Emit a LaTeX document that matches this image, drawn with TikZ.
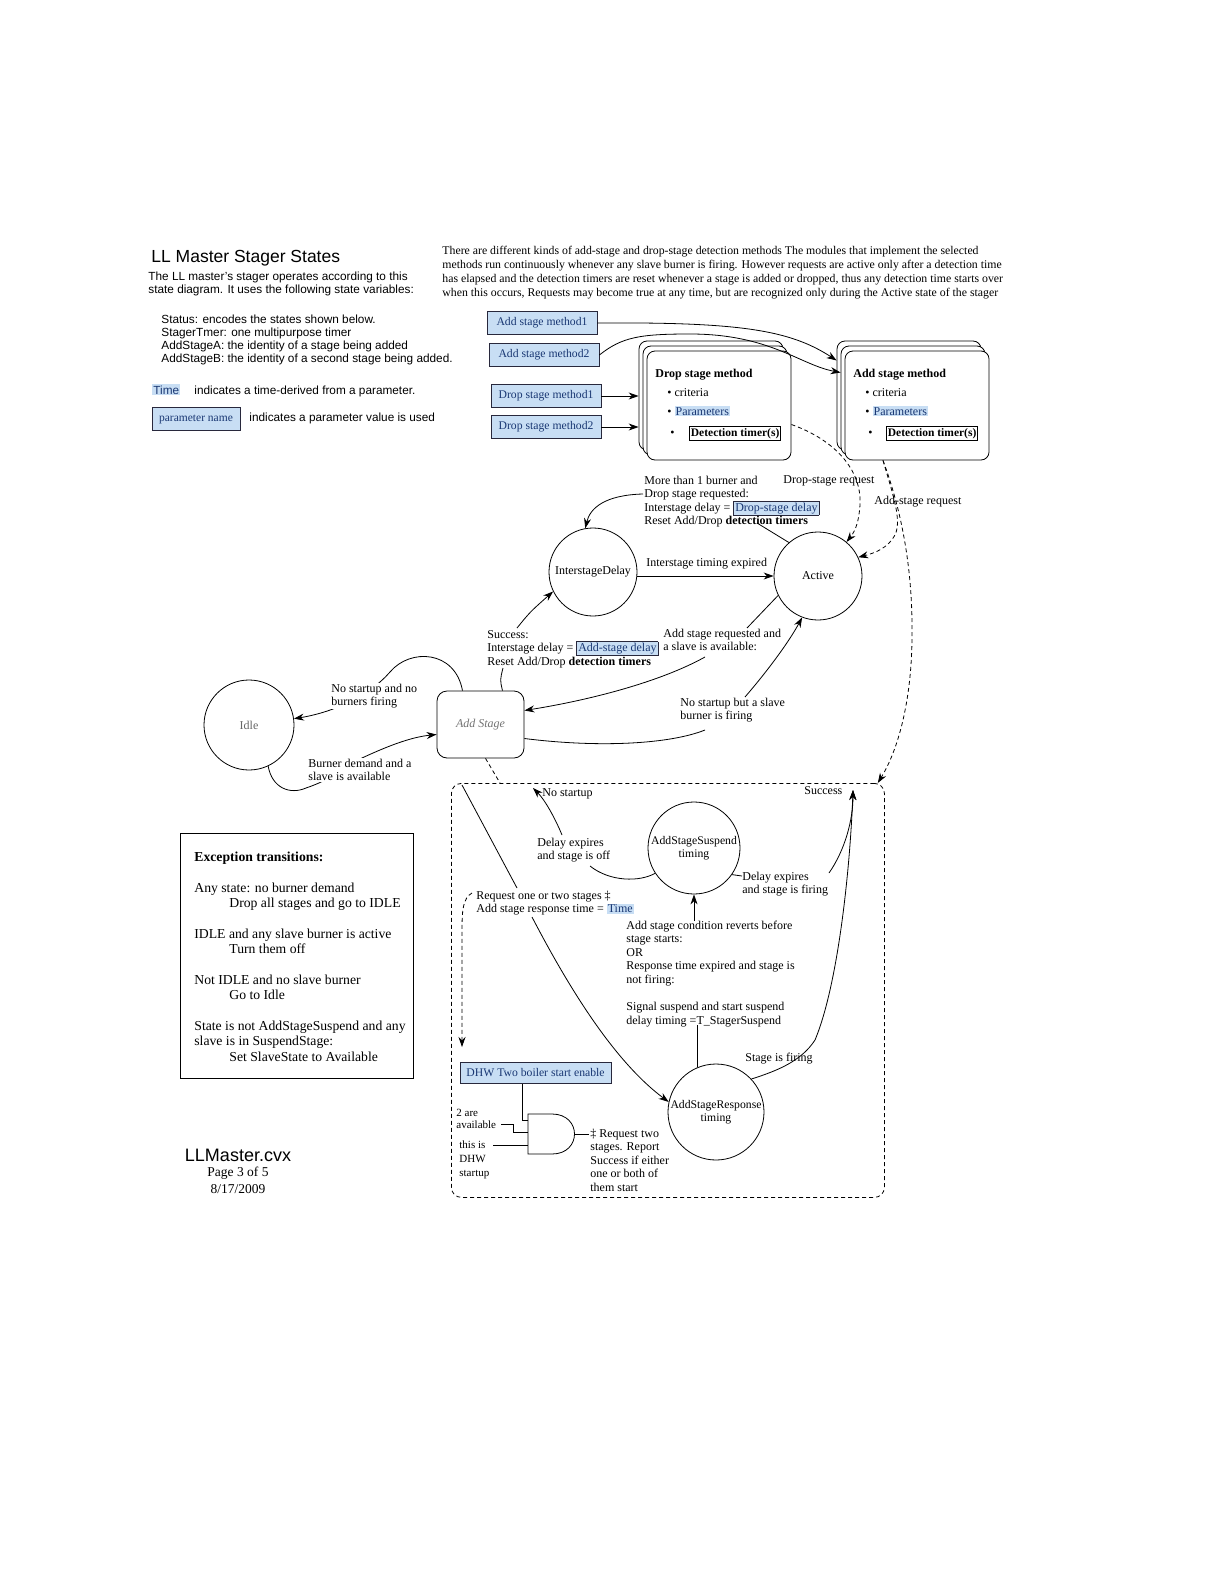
\documentclass[tikz,border=0pt]{standalone}
\usepackage{fontspec}
\setmainfont{Liberation Serif}
\setsansfont{Liberation Sans}
\usetikzlibrary{arrows.meta,calc}
\definecolor{hlfill}{RGB}{200,222,244}
\definecolor{hltext}{RGB}{25,55,115}
\definecolor{boxline}{RGB}{40,40,60}
\newcommand{\dgfont}{\fontsize{12}{13.6}\selectfont}
\newcommand{\sansfont}{\sffamily\fontsize{11.8}{13}\selectfont}
\newcommand{\hlt}[1]{{\setlength{\fboxsep}{1pt}\colorbox{hlfill}{\textcolor{hltext}{#1}}}}
\newcommand{\hlbox}[1]{{\setlength{\fboxsep}{1pt}\setlength{\fboxrule}{0.8pt}\fcolorbox{boxline}{hlfill}{\textcolor{hltext}{#1}}}}
\begin{document}
\begin{tikzpicture}[x=1pt,y=-1pt,line width=0.8pt,
  arr/.style={-{Stealth[length=10pt,width=7pt]}},
  dsh/.style={dash pattern=on 4pt off 3pt},
  lbl/.style={anchor=base west,align=left,inner sep=0pt,font=\dgfont},
  lblw/.style={lbl,fill=white,inner sep=1pt},
  state/.style={circle,draw,minimum size=88pt,inner sep=0pt,align=center,font=\dgfont},
  mbox/.style={draw=boxline,fill=hlfill,text=hltext,minimum height=23pt,inner sep=2pt,font=\fontsize{11.7}{13}\selectfont},
  card/.style={draw,rounded corners=8pt,fill=white,minimum width=144pt,minimum height=109pt},
  ]
\useasboundingbox (0,0) rectangle (1224,1584);
\fill[white] (0,0) rectangle (1224,1584);

% ---------- header texts (multi-line nodes: base = last line) ----------
\node[anchor=base west,inner sep=0pt,font=\sffamily\fontsize{17.5}{20}\selectfont] (title) at (151,262) {LL Master Stager States};
\node[anchor=base west,inner sep=0pt,align=left,font=\sansfont] (intro) at (148,293) {The LL master's stager operates according to this\\state diagram. It uses the following state variables:};
\node[anchor=base west,inner sep=0pt,align=left,font=\sansfont] (vars) at (161,362) {Status: encodes the states shown below.\\StagerTmer: one multipurpose timer\\AddStageA: the identity of a stage being added\\AddStageB: the identity of a second stage being added.};
\node[anchor=base west,inner sep=0pt,font=\sansfont] (timelg) at (152,394) {\hlt{Time}};
\node[anchor=base west,inner sep=0pt,font=\sansfont] (timetx) at (194,394) {indicates a time-derived from a parameter.};
\node[mbox,font=\fontsize{11.5}{13}\selectfont,minimum width=88pt,minimum height=23pt] (pname) at (196,419) {parameter name};
\node[anchor=base west,inner sep=0pt,font=\sansfont] (pnametx) at (249,421) {indicates a parameter value is used};

\node[anchor=base west,inner sep=0pt,align=left,font=\fontsize{11.8}{13.7}\selectfont] (para) at (442,296) {There are different kinds of add-stage and drop-stage detection methods The modules that implement the selected\\methods run continuously whenever any slave burner is firing. However requests are active only after a detection time\\has elapsed and the detection timers are reset whenever a stage is added or dropped, thus any detection time starts over\\when this occurs, Requests may become true at any time, but are recognized only during the Active state of the stager};

% ---------- method boxes ----------
\node[mbox,minimum width=110pt] (am1) at (542,323) {Add stage method1};
\node[mbox,minimum width=110pt] (am2) at (544,355) {Add stage method2};
\node[mbox,minimum width=110pt] (dm1) at (546,396) {Drop stage method1};
\node[mbox,minimum width=110pt] (dm2) at (546,427) {Drop stage method2};

% ---------- stacked cards ----------
\node[card] (dropb) at (711,395.5) {};
\node[card] (dropm) at (715,400.5) {};
\node[card] (dropf) at (719,405.5) {};
\node[card] (addb) at (909,395.5) {};
\node[card] (addm) at (913,400.5) {};
\node[card] (addf) at (917,405.5) {};

\node[lbl,font=\bfseries\dgfont] (dtitle) at (655,377) {Drop stage method};
\node[lbl] (dcrit) at (667,396) {\textbullet\ criteria};
\node[lbl] (dpar) at (667,415) {\textbullet\ \hlt{Parameters}};
\node[lbl] (dbul) at (670,436) {\textbullet};
\node[draw,anchor=base west,inner sep=1.5pt,font=\bfseries\fontsize{11.5}{13}\selectfont] (ddet) at (689,436) {Detection timer(s)};

\node[lbl,font=\bfseries\dgfont] (atitle) at (853,377) {Add stage method};
\node[lbl] (acrit) at (865,396) {\textbullet\ criteria};
\node[lbl] (apar) at (865,415) {\textbullet\ \hlt{Parameters}};
\node[lbl] (abul) at (868,436) {\textbullet};
\node[draw,anchor=base west,inner sep=1.5pt,font=\bfseries\fontsize{11.5}{13}\selectfont] (adet) at (886,436) {Detection timer(s)};

\draw[arr] (am1.east) .. controls (740,322) and (790,330) .. ([yshift=35pt]addb.west);
\draw[arr] (am2.east) .. controls (622,337) and (640,334) .. (690,334) .. controls (770,334) and (800,365) .. ([yshift=28pt]addm.west);
\draw[arr] (dm1.east) -- (dm1.east -| dropb.west);
\draw[arr] (dm2.east) -- (dm2.east -| dropb.west);

% ---------- states ----------
\node[state] (isd) at (593,572) {InterstageDelay};
\node[state] (act) at (818,576) {Active};
\node[state,minimum size=90pt,text=black!60] (idle) at (249,725) {Idle};
\node[draw,rounded corners=10pt,minimum width=87pt,minimum height=67pt,font=\itshape\dgfont,text=black!55] (addst) at (480.5,724.5) {Add Stage};
\node[draw,dsh,rounded corners=10pt,minimum width=433pt,minimum height=414pt,anchor=north west] (comp) at (451,783) {};
\node[state,minimum size=92pt,font=\fontsize{11.7}{13.4}\selectfont] (sus) at (694,848) {AddStageSuspend\\timing};
\node[state,minimum size=96pt,font=\fontsize{11.7}{13.4}\selectfont] (resp) at (716,1112) {AddStageResponse\\timing};

% ---------- request dashed lines ----------
\node[lbl] (dsreq) at (783,483) {Drop-stage request};
\node[lbl] (asreq) at (874,504) {Add-stage request};
\draw[dsh,arr] ([yshift=-19pt]dropf.east) .. controls (835,440) and (862,470) .. (860,505) .. controls (859,520) and (856,530) .. (act.50);
\draw[dsh,arr] ([xshift=-34pt]addf.south) .. controls (893,495) and (902,520) .. (895,535) .. controls (888,548) and (875,553) .. (act.25);
\draw[dsh,arr] ([xshift=-34pt]addf.south) .. controls (905,520) and (913,580) .. (912,640) .. controls (911,710) and (895,755) .. ([xshift=-7pt]comp.north east);

% ---------- drop transition ----------
\node[lbl] (droplbl) at (644,524.8) {More than 1 burner and\\Drop stage requested:\\Interstage delay = \hlbox{Drop-stage delay}\\Reset Add/Drop \textbf{detection timers}};
\coordinate (dl1) at (757,523);
\coordinate (dl2) at (643,494);
\draw (act.131) -- (dl1);
\draw[arr] (dl2) .. controls (605,495) and (590,508) .. (isd.100);

% ---------- interstage expired ----------
\node[lbl] (itlbl) at (646,566) {Interstage timing expired};
\draw[arr] (isd.east |- act.west) -- (act.west);

% ---------- success ----------
\node[lbl] (succlbl) at (487,665.2) {Success:\\Interstage delay = \hlbox{Add-stage delay}\\Reset Add/Drop \textbf{detection timers}};
\coordinate (sl1) at (503,668);
\coordinate (sl2) at (517,628);
\draw ([xshift=22pt]addst.north) .. controls (500,680) .. (sl1);
\draw[arr] (sl2) .. controls (530,612) .. (isd.206);

% ---------- active -> add stage ----------
\node[lbl] (asrlbl) at (663,650.6) {Add stage requested and\\a slave is available:};
\coordinate (ar1) at (747,628);
\coordinate (ar2) at (705,657);
\draw (act.206) -- (ar1);
\draw[arr] (ar2) .. controls (660,682) and (590,700) .. ([yshift=14pt]addst.east);

% ---------- add stage -> active ----------
\coordinate (nb1) at (705,730);
\coordinate (nb2) at (745,697);
\draw ([yshift=-14pt]addst.east) .. controls (600,748) and (670,744) .. (nb1);
\draw[arr] (nb2) .. controls (770,668) and (790,640) .. (act.249);
\node[lbl] (nsblbl) at (680,719.6) {No startup but a slave\\burner is firing};

% ---------- add stage -> idle ----------
\draw[arr] ([xshift=-18pt]addst.north) .. controls (455,650) and (410,648) .. (390,672) .. controls (370,695) and (335,712) .. (idle.8);
\node[lblw] (nslbl) at (330,705.6) {No startup and no\\burners firing};

% ---------- idle -> add stage ----------
\draw[arr] (idle.295) .. controls (272,788) and (290,795) .. (306,788) .. controls (330,780) and (345,768) .. (362,758) .. controls (390,745) and (412,737) .. ([yshift=-10pt]addst.west);
\node[lblw] (bdlbl) at (307,780.6) {Burner demand and a\\slave is available};

% ---------- add stage -> composite ----------
\draw[dsh] ([xshift=5pt]addst.south) -- ([xshift=49pt]comp.north west);

% ---------- inside composite ----------
\node[lbl] (nostart) at (542,796) {No startup};
\node[lbl] (delayoff) at (537,859.6) {Delay expires\\and stage is off};
\coordinate (nsx) at (533,788);
\coordinate (do1) at (562,835);
\coordinate (do2) at (590,866);
\draw[arr] (do1) .. controls (555,818) and (545,800) .. (nsx);
\draw (do2) .. controls (610,882) and (640,882) .. (sus.213);

\node[lbl] (success) at (804,794) {Success};
\coordinate (succpt) at (853,790);
\node[lbl] (delayfire) at (742,893.6) {Delay expires\\and stage is firing};
\coordinate (df1) at (742,876);
\coordinate (df2) at (829,873);
\draw (sus.-35) -- (df1);
\draw[arr] (df2) .. controls (845,850) and (853,820) .. (succpt);
\node[lbl] (stagefire) at (745,1061) {Stage is firing};
\draw[arr] (resp.43) .. controls (780,1070) and (802,1060) .. (815,1040) .. controls (838,985) and (850,870) .. (succpt);

\node[lbl] (condlbl) at (626,1024.2) {Add stage condition reverts before\\stage starts:\\OR\\Response time expired and stage is\\not firing:\\[13.6pt]Signal suspend and start suspend\\delay timing =T\_StagerSuspend};
\coordinate (condtop) at (694,921);
\draw[arr] (condtop) -- (sus.south);
\draw (resp.113) -- ++(0,-42);

\node[lbl] (reqlbl) at (476,912.6) {Request one or two stages ‡\\Add stage response time = \hlt{Time}};
\coordinate (rq1) at (517,888);
\coordinate (rq2) at (532,917);
\coordinate (rq3) at (472,893);
\coordinate (rq4) at (462,1047);
\draw ([xshift=11pt,yshift=-2pt]comp.north west) -- (rq1);
\draw[arr] (rq2) .. controls (570,990) and (615,1062) .. (resp.168);
\draw[dsh,arr] (rq3) .. controls (463,898) and (462,910) .. (462,930) -- (rq4);

% ---------- DHW & gate ----------
\node[mbox,minimum width=151pt,minimum height=21pt] (dhw) at (535.5,1073) {DHW Two boiler start enable};
\draw (528,1114) -- (552,1114) .. controls (582,1114) and (582,1154) .. (552,1154) -- (528,1154) -- cycle;
\draw ([xshift=-13.5pt]dhw.south) -- (522,1120) -- (528,1120);
\draw (501,1124) -- (513,1124) -- (513,1132) -- (528,1132);
\draw (493,1145) -- (528,1145);
\draw (575,1134) -- (589,1134);
\node[anchor=base west,align=left,inner sep=0pt,font=\fontsize{11}{12}\selectfont] (twoav) at (456,1128) {2 are\\available};
\node[anchor=base west,align=left,inner sep=0pt,font=\fontsize{11}{14}\selectfont] (dhwst) at (459,1176) {this is\\DHW\\startup};
\node[lbl] (reqtwo) at (590,1191.4) {‡ Request two\\stages. Report\\Success if either\\one or both of\\them start};

% ---------- exception box ----------
\node[draw,line width=0.6pt,anchor=north west,minimum width=233pt,minimum height=245pt] (exc) at (180,833) {};
\node[anchor=base west,align=left,inner sep=0pt,font=\fontsize{13.7}{15.5}\selectfont] (exctx) at (194,1061) {\textbf{Exception transitions:}\\[15pt]Any state: no burner demand\\\hspace*{35pt}Drop all stages and go to IDLE\\[15pt]IDLE and any slave burner is active\\\hspace*{35pt}Turn them off\\[15pt]Not IDLE and no slave burner\\\hspace*{35pt}Go to Idle\\[15pt]State is not AddStageSuspend and any\\slave is in SuspendStage:\\\hspace*{35pt}Set SlaveState to Available};

% ---------- footer ----------
\node[inner sep=0pt,font=\sffamily\fontsize{18}{20}\selectfont] (llm) at (238,1155) {LLMaster.cvx};
\node[inner sep=0pt,font=\fontsize{13.5}{15}\selectfont] (page) at (238,1173) {Page 3 of 5};
\node[inner sep=0pt,font=\fontsize{13.5}{15}\selectfont] (date) at (238,1189) {8/17/2009};
\end{tikzpicture}
\end{document}
